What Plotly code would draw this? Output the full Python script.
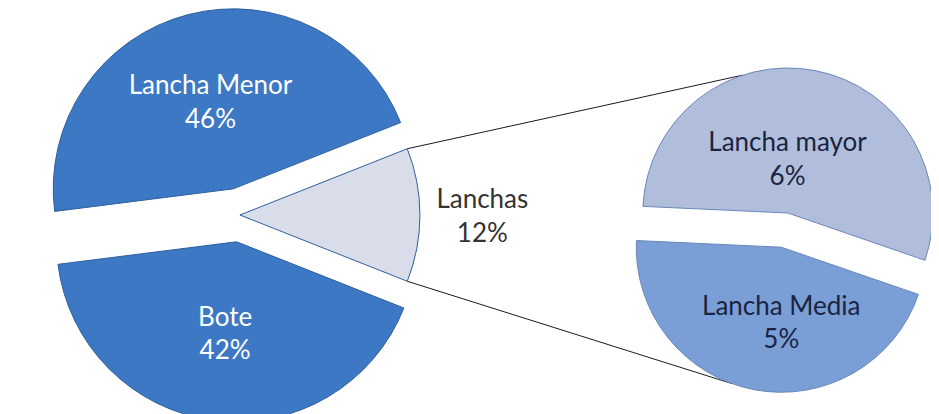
import math
import plotly.graph_objects as go

# ---- data ----
main_labels = ["Lancha Menor", "Bote", "Lanchas"]
main_values = [46, 42, 12]
sub_labels = ["Lancha mayor", "Lancha Media"]
sub_values = [6, 5]

main_colors = ["#3c78c3", "#3c78c3", "#d9dde9"]
sub_colors = ["#b0bedb", "#7a9fd6"]

W, H = 939, 414

# main pie geometry
main_dom_x = [0.0, 0.494]
main_dom_y = [0.0, 1.0]
main_pull = [0.15, 0.15, 0.0]
# second pie geometry
sub_dom_x = [0.654, 1.0]
sub_dom_y = [0.071, 0.856]
sub_pull = [0.12, 0.12]

tot = sum(main_values)
other_share = main_values[-1] / tot * 360.0
span_first = main_values[0] / tot * 360.0
# plotly (counterclockwise): first slice spans [rotation, rotation+span] clockwise from 12 o'clock
main_rotation = (90 - other_share / 2) - span_first

sub_tot = sum(sub_values)
sub_span0 = sub_values[0] / sub_tot * 360.0
sub_start_math = -19  # right edge of the upper slice (math angle)
sub_rotation = (90 - sub_start_math) - sub_span0

font_family = "Lato, 'Open Sans', sans-serif"
fsize = 26

fig = go.Figure()
fig.add_trace(go.Pie(
    labels=main_labels, values=main_values, sort=False,
    direction="counterclockwise", rotation=main_rotation,
    pull=main_pull, domain=dict(x=main_dom_x, y=main_dom_y),
    marker=dict(colors=main_colors, line=dict(color="#2f5f9e", width=1)),
    text=[f"{v}%" for v in main_values],
    texttemplate="%{label}<br>%{text}",
    textposition=["inside", "inside", "outside"],
    insidetextorientation="horizontal",
    insidetextfont=dict(color="white", size=fsize, family=font_family),
    outsidetextfont=dict(color="#333333", size=fsize, family=font_family),
    hoverinfo="label+text", automargin=False,
))
fig.add_trace(go.Pie(
    labels=sub_labels, values=sub_values, sort=False,
    direction="counterclockwise", rotation=sub_rotation,
    pull=sub_pull, domain=dict(x=sub_dom_x, y=sub_dom_y),
    marker=dict(colors=sub_colors, line=dict(color="#6a86b8", width=1)),
    text=[f"{v}%" for v in sub_values],
    texttemplate="%{label}<br>%{text}",
    textposition="inside",
    insidetextorientation="horizontal",
    insidetextfont=dict(color="#1a2442", size=fsize, family=font_family),
    hoverinfo="label+text", automargin=False,
))

# connector lines between the "Lanchas" slice and the second pie
def pie_geom(dx, dy, pull):
    bw = W * (dx[1] - dx[0])
    bh = H * (dy[1] - dy[0])
    r = min(bw, bh) / (2 + 2 * max(pull))
    cx = W * (dx[0] + dx[1]) / 2
    cy = H * (1 - dy[0]) - bh / 2
    return cx, cy, r

mcx, mcy, mr = pie_geom(main_dom_x, main_dom_y, main_pull)
scx, scy, sr = pie_geom(sub_dom_x, sub_dom_y, sub_pull)
half = math.radians(other_share / 2)
p_top = (mcx + mr * math.cos(half), mcy - mr * math.sin(half))
p_bot = (mcx + mr * math.cos(half), mcy + mr * math.sin(half))

def sub_point(ang_deg, slice_mid_deg, pull):
    off = pull * sr
    ox = off * math.cos(math.radians(slice_mid_deg))
    oy = -off * math.sin(math.radians(slice_mid_deg))
    return (scx + ox + sr * math.cos(math.radians(ang_deg)),
            scy + oy - sr * math.sin(math.radians(ang_deg)))

mid0 = sub_start_math + sub_span0 / 2
mid1 = sub_start_math + sub_span0 + (360 - sub_span0) / 2
q_top = sub_point(108, mid0, sub_pull[0])
q_bot = sub_point(250, mid1, sub_pull[1])

for a, b in [(p_top, q_top), (p_bot, q_bot)]:
    fig.add_shape(type="line", xref="paper", yref="paper",
                  x0=a[0] / W, y0=1 - a[1] / H, x1=b[0] / W, y1=1 - b[1] / H,
                  line=dict(color="#1a1a1a", width=1), layer="below")

fig.update_layout(
    width=W, height=H, margin=dict(l=0, r=0, t=0, b=0),
    paper_bgcolor="white", plot_bgcolor="white", showlegend=False,
    font=dict(family=font_family),
)
fig.write_html("out.html")
